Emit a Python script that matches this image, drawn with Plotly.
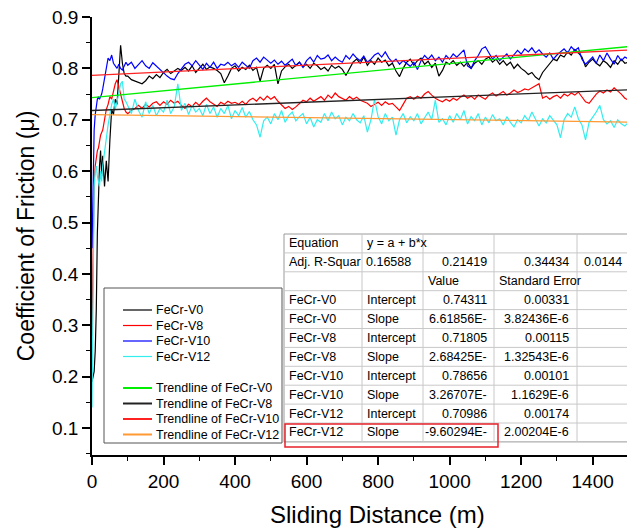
import plotly.graph_objects as go

# ---------------------------------------------------------------------------
# Friction data: coefficient of friction vs sliding distance for four coatings
# ---------------------------------------------------------------------------
# Sliding distance (m): fine steps through running-in, then every 10 m
distance = [0, 3, 6, 9, 12, 15, 18, 21, 24, 27, 30, 35, 40, 45, 50, 55, 60, 65,
            70, 75, 80, 85, 90, 95] + list(range(100, 1501, 10))

mu_v0 = [
    0.19, 0.20, 0.21, 0.25, 0.33, 0.48, 0.58, 0.61, 0.64, 0.59, 0.63, 0.57,
    0.62, 0.58, 0.66, 0.72, 0.71, 0.74, 0.73, 0.78, 0.845, 0.81, 0.79, 0.785,
    0.785, 0.778, 0.775, 0.772, 0.770,
    0.776, 0.785, 0.780, 0.788, 0.782,
    0.792, 0.798, 0.790, 0.795, 0.800,
    0.796, 0.802, 0.795, 0.805, 0.792,
    0.800, 0.808, 0.798, 0.803, 0.800,
    0.796, 0.790, 0.772, 0.785, 0.800,
    0.805, 0.795, 0.802, 0.798, 0.806,
    0.796, 0.802, 0.775, 0.800, 0.806,
    0.800, 0.808, 0.770, 0.795, 0.803,
    0.808, 0.800, 0.806, 0.812, 0.803,
    0.808, 0.800, 0.810, 0.805, 0.798,
    0.802, 0.795, 0.806, 0.800, 0.804,
    0.798, 0.786, 0.800, 0.812, 0.818,
    0.810, 0.822, 0.806, 0.815, 0.808,
    0.820, 0.812, 0.816, 0.805, 0.810,
    0.795, 0.784, 0.800, 0.812, 0.818,
    0.806, 0.815, 0.820, 0.808, 0.814,
    0.802, 0.810, 0.785, 0.796, 0.812,
    0.808, 0.815, 0.806, 0.812, 0.804,
    0.812, 0.800, 0.810, 0.815, 0.808,
    0.818, 0.822, 0.812, 0.818, 0.808,
    0.815, 0.806, 0.812, 0.800, 0.808,
    0.800, 0.795, 0.788, 0.792, 0.783,
    0.778, 0.792, 0.800, 0.810, 0.818,
    0.815, 0.826, 0.822, 0.832, 0.826,
    0.837, 0.830, 0.822, 0.803, 0.812,
    0.818, 0.810, 0.805, 0.815, 0.810,
    0.802, 0.815, 0.808, 0.818, 0.810,
    0.812,
]

mu_v8 = [
    0.28, 0.50, 0.58, 0.61, 0.63, 0.64, 0.645, 0.66, 0.67, 0.675, 0.68, 0.70,
    0.72, 0.73, 0.745, 0.74, 0.755, 0.77, 0.778, 0.765, 0.748, 0.735, 0.722, 0.715,
    0.712, 0.718, 0.722, 0.728, 0.722,
    0.730, 0.725, 0.732, 0.735, 0.728,
    0.735, 0.730, 0.738, 0.732, 0.736,
    0.728, 0.722, 0.730, 0.726, 0.734,
    0.728, 0.736, 0.742, 0.735, 0.730,
    0.726, 0.734, 0.730, 0.736, 0.732,
    0.734, 0.730, 0.736, 0.730, 0.738,
    0.742, 0.736, 0.744, 0.738, 0.746,
    0.740, 0.745, 0.736, 0.728, 0.722,
    0.726, 0.720, 0.725, 0.732, 0.738,
    0.735, 0.742, 0.736, 0.740, 0.745,
    0.738, 0.748, 0.742, 0.752, 0.745,
    0.742, 0.738, 0.745, 0.740, 0.744,
    0.738, 0.735, 0.732, 0.726, 0.730,
    0.734, 0.728, 0.735, 0.730, 0.732,
    0.725, 0.718, 0.730, 0.742, 0.745,
    0.740, 0.746, 0.742, 0.750, 0.755,
    0.748, 0.742, 0.738, 0.735, 0.740,
    0.736, 0.742, 0.738, 0.744, 0.748,
    0.742, 0.746, 0.740, 0.748, 0.744,
    0.740, 0.748, 0.752, 0.746, 0.750,
    0.755, 0.748, 0.752, 0.758, 0.753,
    0.756, 0.760, 0.758, 0.762, 0.766,
    0.770, 0.742, 0.746, 0.740, 0.745,
    0.748, 0.742, 0.750, 0.746, 0.752,
    0.748, 0.754, 0.745, 0.735, 0.732,
    0.742, 0.750, 0.756, 0.752, 0.758,
    0.754, 0.762, 0.756, 0.750, 0.742,
    0.738,
]

mu_v10 = [
    0.45, 0.62, 0.68, 0.71, 0.73, 0.74, 0.745, 0.74, 0.745, 0.75, 0.76, 0.78,
    0.80, 0.82, 0.815, 0.826, 0.81, 0.805, 0.80, 0.808, 0.80, 0.797, 0.805, 0.812,
    0.806, 0.812, 0.800, 0.808, 0.815,
    0.805, 0.800, 0.811, 0.804, 0.798,
    0.790, 0.785, 0.780, 0.778, 0.790,
    0.800, 0.808, 0.812, 0.805, 0.815,
    0.806, 0.798, 0.810, 0.802, 0.812,
    0.800, 0.808, 0.806, 0.812, 0.805,
    0.810, 0.802, 0.812, 0.806, 0.800,
    0.815, 0.820, 0.812, 0.822, 0.816,
    0.810, 0.816, 0.808, 0.814, 0.806,
    0.812, 0.818, 0.805, 0.812, 0.802,
    0.815, 0.822, 0.812, 0.825, 0.818,
    0.820, 0.826, 0.815, 0.822, 0.816,
    0.812, 0.825, 0.818, 0.828, 0.820,
    0.815, 0.824, 0.812, 0.818, 0.826,
    0.830, 0.822, 0.832, 0.820, 0.812,
    0.818, 0.808, 0.815, 0.810, 0.804,
    0.812, 0.798, 0.815, 0.825, 0.818,
    0.826, 0.815, 0.822, 0.812, 0.825,
    0.818, 0.828, 0.822, 0.830, 0.836,
    0.805, 0.800, 0.815, 0.825, 0.838,
    0.842, 0.830, 0.818, 0.825, 0.815,
    0.822, 0.828, 0.818, 0.826, 0.835,
    0.828, 0.838, 0.832, 0.840, 0.830,
    0.836, 0.828, 0.822, 0.830, 0.818,
    0.826, 0.832, 0.838, 0.830, 0.842,
    0.835, 0.840, 0.818, 0.808, 0.815,
    0.822, 0.810, 0.826, 0.815, 0.830,
    0.818, 0.808, 0.825, 0.815, 0.822,
    0.818,
]

mu_v12 = [
    0.14, 0.35, 0.57, 0.60, 0.61, 0.59, 0.58, 0.57, 0.60, 0.58, 0.61, 0.64,
    0.67, 0.69, 0.71, 0.73, 0.74, 0.72, 0.735, 0.75, 0.77, 0.775, 0.74, 0.735,
    0.728, 0.712, 0.740, 0.718, 0.705,
    0.735, 0.712, 0.728, 0.708, 0.722,
    0.715, 0.738, 0.712, 0.725, 0.770,
    0.718, 0.732, 0.710, 0.728, 0.715,
    0.722, 0.708, 0.730, 0.712, 0.725,
    0.705, 0.722, 0.712, 0.728, 0.702,
    0.718, 0.708, 0.724, 0.705, 0.716,
    0.700, 0.690, 0.666, 0.698, 0.705,
    0.692, 0.712, 0.700, 0.718, 0.695,
    0.708, 0.715, 0.698, 0.706, 0.712,
    0.692, 0.705, 0.686, 0.700, 0.695,
    0.712, 0.698, 0.715, 0.702, 0.708,
    0.690, 0.705, 0.698, 0.712, 0.700,
    0.694, 0.708, 0.676, 0.700, 0.740,
    0.706, 0.692, 0.712, 0.698, 0.705,
    0.670, 0.700, 0.712, 0.694, 0.706,
    0.698, 0.712, 0.692, 0.705, 0.715,
    0.700, 0.738, 0.695, 0.702, 0.690,
    0.708, 0.695, 0.712, 0.700, 0.718,
    0.692, 0.706, 0.698, 0.712, 0.690,
    0.705, 0.694, 0.710, 0.698, 0.702,
    0.690, 0.706, 0.695, 0.686, 0.700,
    0.694, 0.708, 0.698, 0.715, 0.700,
    0.688, 0.702, 0.694, 0.708, 0.698,
    0.690, 0.665, 0.700, 0.712, 0.705,
    0.725, 0.702, 0.690, 0.661, 0.695,
    0.705, 0.715, 0.728, 0.700, 0.692,
    0.698, 0.685, 0.700, 0.692, 0.688,
    0.695,
]

names = ["FeCr-V0", "FeCr-V8", "FeCr-V10", "FeCr-V12"]
series = [mu_v0, mu_v8, mu_v10, mu_v12]

# Linear fit results, y = a + b*x
intercepts = [0.74311, 0.71805, 0.78656, 0.70986]
intercept_se = [0.00331, 0.00115, 0.00101, 0.00174]
slopes = [6.61856e-5, 2.68425e-5, 3.26707e-5, -9.60294e-6]
slope_se = [3.82436e-6, 1.32543e-6, 1.1629e-6, 2.00204e-6]
adj_r2 = [0.16588, 0.21419, 0.34434, 0.0144]

fit_x = [0, 1500]

# ---------------------------------------------------------------------------
# Styling
# ---------------------------------------------------------------------------
FONT = "Arial, 'Liberation Sans', sans-serif"
data_colors = ["#000000", "#ff0000", "#0000ff", "#33eeee"]
trend_colors = ["#00ee00", "#222222", "#ff2222", "#ff9933"]

W, H = 627, 529
PL, PR, PT, PB = 92, 627, 17, 455   # plot-area edges in pixels


def fx(px):
    return (px - PL) / (PR - PL)


def fy(py):
    return (PB - py) / (PB - PT)


fig = go.Figure()

for name, mu, col in zip(names, series, data_colors):
    fig.add_trace(go.Scatter(x=distance, y=mu, mode="lines", name=name,
                             line=dict(color=col, width=1.2)))

for name, a, b, col in zip(names, intercepts, slopes, trend_colors):
    fig.add_trace(go.Scatter(x=fit_x, y=[a + b * x for x in fit_x], mode="lines",
                             name="Trendline of " + name,
                             line=dict(color=col, width=1.3)))

shapes = []
annotations = []
TXT = 12.5

# --- legend box -----------------------------------------------------------
shapes.append(dict(type="rect", xref="paper", yref="paper",
                   x0=fx(104), x1=fx(282), y0=fy(443), y1=fy(288),
                   line=dict(color="#555555", width=1), fillcolor="white",
                   layer="above"))
legend_rows = [310, 325.5, 341, 356.5, 388, 403.5, 419, 434.5]
legend_items = ([(n, c, 1.2) for n, c in zip(names, data_colors)] +
                [("Trendline of " + n, c, 2) for n, c in zip(names, trend_colors)])
for ly, (label, col, w) in zip(legend_rows, legend_items):
    shapes.append(dict(type="line", xref="paper", yref="paper",
                       x0=fx(123), x1=fx(152), y0=fy(ly), y1=fy(ly),
                       line=dict(color=col, width=w), layer="above"))
    annotations.append(dict(xref="paper", yref="paper", x=fx(154), y=fy(ly),
                            text=label, showarrow=False, xanchor="left",
                            yanchor="middle", font=dict(size=TXT, color="black")))

# --- fit report table ---------------------------------------------------------
def sci(v):
    mant, exp = f"{v:.5E}".split("E")
    mant = mant.rstrip("0").rstrip(".")
    return f"{mant}E{int(exp)}"


def plain(v):
    return f"{v:.5f}".rstrip("0")


col_edges = [284, 362, 423, 494, 577, 640]
right_anchor = [None, 413, 489, 571, 624]

table = [
    [("Equation", "l"), ("y = a + b*x", "l"), ("", "l"), ("", "l"), ("", "l")],
    [("Adj. R-Squar", "l")] + [(plain(v), "r") for v in adj_r2],
    [("", "l"), ("", "l"), ("Value", "l"), ("Standard Error", "l"), ("", "l")],
]
for n, a, ase, b, bse in zip(names, intercepts, intercept_se, slopes, slope_se):
    table.append([(n, "l"), ("Intercept", "l"), (plain(a), "r"),
                  (plain(ase), "r"), ("", "l")])
    table.append([(n, "l"), ("Slope", "l"), (sci(b)[:-1], "r"),
                  (sci(bse), "r"), ("", "l")])

n_rows = len(table)
row_top, row_h = 234, 18.9
table_bottom = row_top + row_h * n_rows
shapes.append(dict(type="rect", xref="paper", yref="paper",
                   x0=fx(col_edges[0]), x1=fx(col_edges[-1]),
                   y0=fy(table_bottom), y1=fy(row_top),
                   line=dict(color="#9a9a9a", width=1), fillcolor="white",
                   layer="above"))
for i in range(1, n_rows):
    y = row_top + row_h * i
    shapes.append(dict(type="line", xref="paper", yref="paper",
                       x0=fx(col_edges[0]), x1=fx(col_edges[-1]),
                       y0=fy(y), y1=fy(y),
                       line=dict(color="#c8c8c8", width=1), layer="above"))
for xe in col_edges[1:-1]:
    shapes.append(dict(type="line", xref="paper", yref="paper",
                       x0=fx(xe), x1=fx(xe), y0=fy(table_bottom), y1=fy(row_top),
                       line=dict(color="#c8c8c8", width=1), layer="above"))

for r, row in enumerate(table):
    cy = row_top + row_h * (r + 0.5)
    for c, (txt, al) in enumerate(row):
        if not txt:
            continue
        if al == "l":
            x, anchor = fx(col_edges[c] + 3), "left"
        else:
            x, anchor = fx(right_anchor[c]), "right"
        annotations.append(dict(xref="paper", yref="paper", x=x, y=fy(cy),
                                text=txt, showarrow=False, xanchor=anchor,
                                yanchor="middle",
                                font=dict(size=TXT, color="black")))

# highlighted V12 slope row
last_top = row_top + row_h * (n_rows - 1)
shapes.append(dict(type="rect", xref="paper", yref="paper",
                   x0=fx(285), x1=fx(498), y0=fy(table_bottom + 5), y1=fy(last_top + 1),
                   line=dict(color="#e8202a", width=1.5), layer="above"))

# x-axis title, centred on the full distance span of the test
annotations.append(dict(xref="paper", yref="paper", x=fx(377.5), y=fy(514),
                        text="Sliding Distance (m)", showarrow=False,
                        xanchor="center", yanchor="middle",
                        font=dict(size=24, color="black", family=FONT)))

axis_common = dict(showline=True, linecolor="black", linewidth=1.5,
                   ticks="outside", ticklen=8, tickwidth=1.5, tickcolor="black",
                   showgrid=False, zeroline=False,
                   tickfont=dict(size=19, color="black", family=FONT))

fig.update_layout(
    width=W, height=H,
    margin=dict(l=PL, r=W - PR, t=PT, b=H - PB, autoexpand=False),
    paper_bgcolor="white", plot_bgcolor="white",
    showlegend=False,
    font=dict(family=FONT, color="black"),
    xaxis=dict(range=[0, 1496], tick0=0, dtick=200,
               minor=dict(dtick=100, ticks="outside", ticklen=4,
                          tickwidth=1.2, tickcolor="black"),
               **axis_common),
    yaxis=dict(range=[0.0475, 0.9], tick0=0.1, dtick=0.1, tickformat=".1f",
               minor=dict(dtick=0.05, ticks="outside", ticklen=4,
                          tickwidth=1.2, tickcolor="black"),
               title=dict(text="Coefficient of Friction (\u03bc)",
                          font=dict(size=23, family=FONT), standoff=11),
               **axis_common),
    shapes=shapes,
    annotations=annotations,
)

fig.write_html("out.html")
